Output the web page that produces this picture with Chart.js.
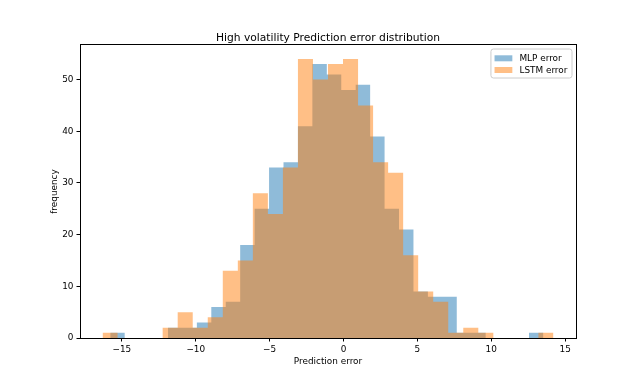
<!DOCTYPE html>
<html><head><meta charset="utf-8">
<script src="https://cdn.jsdelivr.net/npm/chart.js@4.4.1/dist/chart.umd.min.js"></script>
<style>html,body{margin:0;padding:0;background:#fff}</style>
</head><body>
<canvas id="c" width="640" height="380" style="width:640px;height:380px;display:block"></canvas>
<script>
// ---- data ----
const seriesNames = ['MLP error', 'LSTM error'];
const mlpRange = [-15.79, 13.53];   // histogram range (30 equal bins)
const lstmRange = [-16.31, 14.21];
const mlpCounts = [1,0,0,0,2,2,3,6,7,18,25,33,34,41,53,51,48,49,39,25,21,9,8,8,1,1,0,0,0,1];
const lstmCounts = [1,0,0,0,2,5,2,4,13,15,28,24,33,54,50,53,54,45,34,32,16,9,7,1,2,1,0,0,0,1];
const xTicks = [-15,-10,-5,0,5,10,15];
const yTicks = [0,10,20,30,40,50];
const titleText = 'High volatility Prediction error distribution';
const xLabel = 'Prediction error';
const yLabel = 'frequency';

const FONT = 'DejaVu Sans';
const colors = ['rgba(31,119,180,0.5)', 'rgba(255,127,14,0.5)'];

function histPoints(range, counts) {
  const n = counts.length, w = (range[1] - range[0]) / n;
  const pts = counts.map((c, i) => ({x: range[0] + i * w, y: c}));
  pts.push({x: range[1], y: counts[n - 1]});
  return pts;
}
const lo = Math.min(mlpRange[0], lstmRange[0]);
const hi = Math.max(mlpRange[1], lstmRange[1]);
const xMin = lo - 0.05 * (hi - lo), xMax = hi + 0.05 * (hi - lo);
const yMax = 1.05 * Math.max(...mlpCounts, ...lstmCounts);

const minus = v => String(v).replace('-', '\u2212');

const framePlugin = {
  id: 'frame',
  afterDatasetsDraw(chart) {
    const {ctx, chartArea: a} = chart;
    ctx.save();
    ctx.strokeStyle = '#000';
    ctx.lineWidth = 1;
    const l = Math.floor(a.left) + 0.5, r = Math.floor(a.right) + 0.5;
    const t = Math.floor(a.top) + 0.5, b = Math.floor(a.bottom) + 0.5;
    ctx.strokeRect(l, t, r - l, b - t);
    ctx.restore();
  },
  afterDraw(chart) {
    const {ctx, chartArea: a} = chart;
    ctx.save();
    const fs = 8.9;
    ctx.font = fs + 'px "' + FONT + '"';
    const tw = Math.max(...seriesNames.map(s => ctx.measureText(s).width));
    const pad = 3.6, handle = 17.8, gap = 7.1;
    const w = pad + handle + gap + tw + pad + 1;
    const h = 29;
    const right = a.right - 4;
    const top = a.top + 4;
    const left = right - w;
    ctx.beginPath();
    const rr = 2.5;
    ctx.moveTo(left + rr, top);
    ctx.lineTo(right - rr, top); ctx.quadraticCurveTo(right, top, right, top + rr);
    ctx.lineTo(right, top + h - rr); ctx.quadraticCurveTo(right, top + h, right - rr, top + h);
    ctx.lineTo(left + rr, top + h); ctx.quadraticCurveTo(left, top + h, left, top + h - rr);
    ctx.lineTo(left, top + rr); ctx.quadraticCurveTo(left, top, left + rr, top);
    ctx.closePath();
    ctx.fillStyle = 'rgba(255,255,255,0.8)';
    ctx.fill();
    ctx.strokeStyle = '#cccccc';
    ctx.lineWidth = 1;
    ctx.stroke();
    const rows = [top + 9.3, top + 21];
    seriesNames.forEach((name, i) => {
      ctx.fillStyle = colors[i];
      ctx.fillRect(left + pad, rows[i] - 3, handle, 6);
      ctx.fillStyle = '#000';
      ctx.textBaseline = 'middle';
      ctx.textAlign = 'left';
      ctx.fillText(name, left + pad + handle + gap, rows[i] + 0.5);
    });
    ctx.restore();
  }
};

new Chart(document.getElementById('c'), {
  type: 'line',
  data: {
    datasets: [
      {label: seriesNames[0], data: histPoints(mlpRange, mlpCounts), stepped: true, fill: 'origin',
       backgroundColor: colors[0], borderColor: 'rgba(0,0,0,0)', borderWidth: 0, pointRadius: 0, order: 1},
      {label: seriesNames[1], data: histPoints(lstmRange, lstmCounts), stepped: true, fill: 'origin',
       backgroundColor: colors[1], borderColor: 'rgba(0,0,0,0)', borderWidth: 0, pointRadius: 0, order: 0}
    ]
  },
  options: {
    responsive: false, animation: false, devicePixelRatio: 1,
    layout: {padding: {left: 0, right: 64, top: 0, bottom: 0}},
    plugins: {
      legend: {display: false},
      tooltip: {enabled: false},
      title: {display: true, text: titleText, fullSize: false, color: '#000',
              font: {family: FONT, size: 10.7, weight: 'normal', lineHeight: 1.2},
              padding: {top: 31.5, bottom: 0.66}}
    },
    scales: {
      x: {
        type: 'linear', min: xMin, max: xMax,
        afterBuildTicks: s => { s.ticks = xTicks.map(v => ({value: v})); },
        afterFit: s => { s.height = 42; },
        grid: {drawOnChartArea: false, drawTicks: true, tickLength: 3.5, tickColor: '#000', tickWidth: 1},
        border: {display: false},
        ticks: {color: '#000', font: {family: FONT, size: 8.9}, padding: 2.5, maxRotation: 0, autoSkip: false,
                callback: v => minus(v)},
        title: {display: true, text: xLabel, color: '#000', font: {family: FONT, size: 8.9, lineHeight: 1.2},
                padding: {top: 0, bottom: 13.2}}
      },
      y: {
        type: 'linear', min: 0, max: yMax,
        afterBuildTicks: s => { s.ticks = yTicks.map(v => ({value: v})); },
        afterFit: s => { s.width = 80; },
        grid: {drawOnChartArea: false, drawTicks: true, tickLength: 3.5, tickColor: '#000', tickWidth: 1},
        border: {display: false},
        ticks: {color: '#000', font: {family: FONT, size: 8.9}, padding: 3, autoSkip: false,
                callback: v => minus(v)},
        title: {display: true, text: yLabel, color: '#000', font: {family: FONT, size: 8.9, lineHeight: 1.2},
                padding: {top: 49.6, bottom: 0}}
      }
    }
  },
  plugins: [framePlugin]
});
</script>
</body></html>
